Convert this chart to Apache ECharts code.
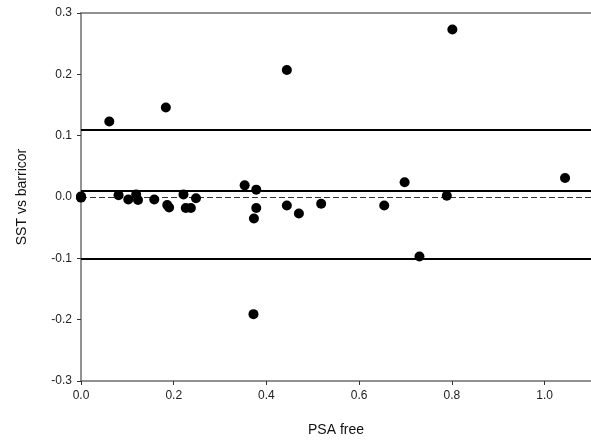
<!DOCTYPE html>
<html>
<head>
<meta charset="utf-8">
<script src="https://cdn.jsdelivr.net/npm/echarts@6/dist/echarts.min.js"></script>
<style>
html,body{margin:0;padding:0;background:#fff;}
#c{width:591px;height:444px;}
</style>
</head>
<body>
<div id="c"></div>
<script>
// PSA free (x) and SST vs barricor difference (y)
const psaFree = [0, 0, 0, 0.061, 0.081, 0.102, 0.119, 0.123, 0.158, 0.183, 0.186, 0.190, 0.221, 0.226, 0.237, 0.248,
                 0.353, 0.372, 0.373, 0.378, 0.378, 0.444, 0.444, 0.470, 0.518, 0.654, 0.698, 0.730, 0.789, 0.801, 1.044];
const diff    = [0, 0.001, -0.001, 0.123, 0.003, -0.004, 0.004, -0.005, -0.004, 0.146, -0.013, -0.017, 0.004, -0.018, -0.018, -0.002,
                 0.019, -0.191, -0.035, 0.012, -0.018, 0.207, -0.014, -0.027, -0.011, -0.014, 0.024, -0.097, 0.002, 0.273, 0.031];
const upperLimit = 0.113;
const meanDiff = 0.005;
const zeroLine = 0;
const lowerLimit = -0.102;
const xTicks = [0.0, 0.2, 0.4, 0.6, 0.8, 1.0];
const yTicks = [-0.3, -0.2, -0.1, 0.0, 0.1, 0.2, 0.3];

const points = psaFree.map((x, i) => [x, diff[i]]);
const font = '"Liberation Sans", Arial, sans-serif';
const chart = echarts.init(document.getElementById('c'));
chart.setOption({
  animation: false,
  backgroundColor: '#fff',
  grid: {left: 81, top: 13, right: 0, bottom: 63, containLabel: false},
  xAxis: [{
    type: 'value', min: 0, max: 1.1, interval: 0.2,
    name: 'PSA free', nameLocation: 'middle', nameGap: 42,
    nameTextStyle: {fontFamily: font, fontSize: 14, color: '#111'},
    axisLine: {show: true, onZero: false, lineStyle: {color: '#6e6e6e', width: 1.5}},
    axisTick: {show: true, length: 4, inside: false, customValues: xTicks, lineStyle: {color: '#333', width: 1}},
    axisLabel: {fontFamily: font, fontSize: 12, color: '#222', margin: 9, customValues: xTicks,
      formatter: v => Number(v).toFixed(1)},
    splitLine: {show: false}
  }, {
    type: 'value', position: 'top', min: 0, max: 1.1,
    axisLine: {show: true, onZero: false, lineStyle: {color: '#6e6e6e', width: 1.5}},
    axisTick: {show: false}, axisLabel: {show: false}, splitLine: {show: false}
  }],
  yAxis: {
    type: 'value', min: -0.3, max: 0.3, interval: 0.1,
    name: 'SST vs barricor', nameLocation: 'middle', nameGap: 52, nameRotate: 90,
    nameTextStyle: {fontFamily: font, fontSize: 14, color: '#111'},
    axisLine: {show: true, onZero: false, lineStyle: {color: '#6e6e6e', width: 1.5}},
    axisTick: {show: true, length: 4, lineStyle: {color: '#333', width: 1}},
    axisLabel: {fontFamily: font, fontSize: 12, color: '#222', margin: 9,
      formatter: v => (yTicks.some(t => Math.abs(t - v) < 1e-6) ? v.toFixed(1) : '')},
    splitLine: {show: false}
  },
  series: [{
    type: 'scatter',
    data: points,
    symbol: 'circle',
    symbolSize: 10,
    itemStyle: {color: '#000', opacity: 1},
    z: 5,
    markLine: {
      silent: true, symbol: 'none', label: {show: false},
      animation: false,
      data: [
        {yAxis: upperLimit, lineStyle: {color: '#000', width: 2, type: 'solid'}},
        {yAxis: meanDiff, lineStyle: {color: '#000', width: 2, type: 'solid'}},
        {yAxis: zeroLine, lineStyle: {color: '#333', width: 1, type: [6, 3]}},
        {yAxis: lowerLimit, lineStyle: {color: '#000', width: 2, type: 'solid'}}
      ]
    }
  }]
});
</script>
</body>
</html>
